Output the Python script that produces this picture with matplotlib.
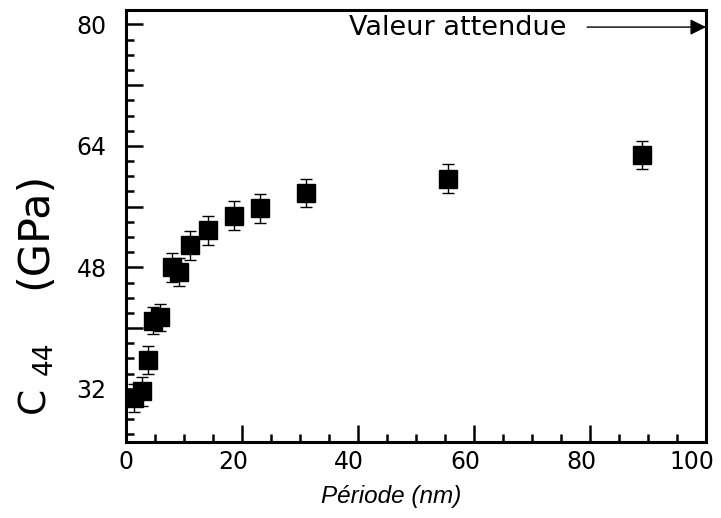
import matplotlib
matplotlib.use("Agg")
import matplotlib.pyplot as plt
from matplotlib.ticker import MultipleLocator, FuncFormatter, FixedLocator
from matplotlib.transforms import ScaledTranslation

periode = [1.4, 2.8, 3.8, 4.7, 5.9, 7.9, 9.2, 11.0, 14.1, 18.6, 23.1, 31.0, 55.6, 89.0]
c44 = [30.8, 31.7, 35.8, 41.0, 41.4, 48.0, 47.4, 50.9, 52.9, 54.8, 55.8, 57.8, 59.7, 62.8]
erreur = [1.9, 1.9, 1.9, 1.8, 1.8, 1.9, 1.9, 1.9, 1.9, 1.9, 1.9, 1.9, 1.9, 1.9]
x_ticks = [0, 20, 40, 60, 80, 100]
y_ticks_labels = [32, 48, 64, 80]

W, H = 721, 518
fig = plt.figure(figsize=(W/100, H/100), dpi=100)
ax = fig.add_axes([126/W, 1-442/H, 580/W, 432/H])

ax.errorbar(periode, c44, yerr=erreur, fmt='s', color='black', ms=13,
            ecolor='black', elinewidth=1.0, capsize=4.5, capthick=1.0, zorder=3)

ax.set_xlim(0, 100)
ax.set_ylim(25, 81.9)

ax.xaxis.set_major_locator(FixedLocator(x_ticks))
ax.xaxis.set_minor_locator(MultipleLocator(5))
ax.xaxis.set_major_formatter(FuncFormatter(lambda v, p: f"{int(round(v))}"))
ax.yaxis.set_major_locator(MultipleLocator(8))
ax.yaxis.set_minor_locator(MultipleLocator(2))
ax.yaxis.set_major_formatter(FuncFormatter(
    lambda v, p: f"{int(round(v))}" if int(round(v)) in y_ticks_labels else ""))

ax.tick_params(axis='both', which='major', direction='in', length=12, width=1.8,
               labelsize=17, top=False, right=False)
ax.tick_params(axis='both', which='minor', direction='in', length=6, width=1.8,
               top=False, right=False)
ax.tick_params(axis='x', which='major', pad=6)
ax.tick_params(axis='y', which='major', pad=14)

# x tick labels (except 0) sit slightly left of their ticks in the reference
ticks = ax.xaxis.get_major_ticks()
for i, tk in enumerate(ticks[1:], start=1):
    dx = -14 if i == len(ticks) - 1 else -9
    tk.label1.set_transform(tk.label1.get_transform() +
                            ScaledTranslation(dx/100, 0, fig.dpi_scale_trans))

for s in ax.spines.values():
    s.set_linewidth(2.2)

ax.set_xlabel("Période (nm)", fontsize=17.5, style='italic', family='Liberation Sans')
ax.xaxis.set_label_coords(0.457, -0.10)

# y label "C44 (GPa)" written in pieces to follow the reference's wide spacing
fig.text(34/W, 1-400/H, "C", rotation=90, fontsize=27, ha='center', va='center')
fig.text(45/W, 1-358/H, "44", rotation=90, fontsize=19, ha='center', va='center')
fig.text(34/W, 1-230/H, "(GPa)", rotation=90, fontsize=31, ha='center', va='center')

ax.annotate("", xy=(100, 79.65), xytext=(79.5, 79.65),
            arrowprops=dict(arrowstyle='-|>', color='black', lw=1.0,
                            mutation_scale=24, shrinkA=0, shrinkB=0))
ax.text(76, 79.5, "Valeur attendue", ha='right', va='center', fontsize=19.5)

fig.savefig("out.png", dpi=100)
